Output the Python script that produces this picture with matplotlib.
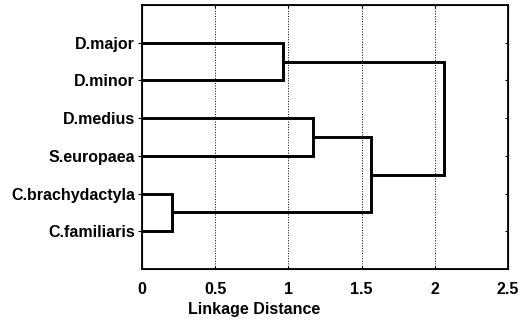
import matplotlib.pyplot as plt

# leaves top to bottom
leaves = ["D.major", "D.minor", "D.medius", "S.europaea",
          "C.brachydactyla", "C.familiaris"]

# merges: (left cluster, right cluster, linkage distance)
merges = [
    ("C.brachydactyla", "C.familiaris", 0.205),
    ("D.major", "D.minor", 0.964),
    ("D.medius", "S.europaea", 1.167),
    ("D.medius+S.europaea", "C.brachydactyla+C.familiaris", 1.562),
    ("D.major+D.minor", "D.medius+S.europaea+C.brachydactyla+C.familiaris", 2.06),
]

xticks = [0, 0.5, 1, 1.5, 2, 2.5]
xtick_labels = ["0", "0.5", "1", "1.5", "2", "2.5"]

plt.rcParams['font.family'] = ['Liberation Sans', 'DejaVu Sans']
plt.rcParams['font.weight'] = 'bold'

fig = plt.figure(figsize=(5.31, 3.23), dpi=100)
ax = fig.add_axes([142/531, 1 - 269/323, (508-142)/531, (269-5)/323])

# node positions: name -> (y, height)
pos = {name: (i + 1, 0.0) for i, name in enumerate(leaves)}
for a, b, d in merges:
    ya, ha = pos[a]
    yb, hb = pos[b]
    ax.plot([ha, d, d, hb], [ya, ya, yb, yb], color="black", lw=2.1,
            solid_joinstyle="miter")
    pos[a + "+" + b] = ((ya + yb) / 2, d)

ax.set_xlim(0, 2.5)
ax.set_ylim(len(leaves) + 1, 0)
ax.set_yticks(range(1, len(leaves) + 1))
ax.set_yticklabels(leaves, fontsize=11.5)
ax.set_xticks(xticks)
ax.set_xticklabels(xtick_labels, fontsize=11.5)
ax.tick_params(axis="y", direction="out", length=3, width=0.8, pad=2)
ax.tick_params(axis="x", direction="in", length=2, width=0.8, top=True, pad=9)
ax.grid(axis="x", linestyle=":", color="black", lw=0.7)
for s in ax.spines.values():
    s.set_linewidth(1.3)

# inward ticks on the right border
ax2 = ax.twinx()
ax2.set_ylim(ax.get_ylim())
ax2.set_yticks(ax.get_yticks())
ax2.set_yticklabels([])
ax2.tick_params(axis="y", direction="in", length=2, width=0.8)

fig.text(254/531, 1 - 314/323, "Linkage Distance", ha="center", va="baseline",
         fontsize=11.5)

fig.savefig("out.png", dpi=100)
